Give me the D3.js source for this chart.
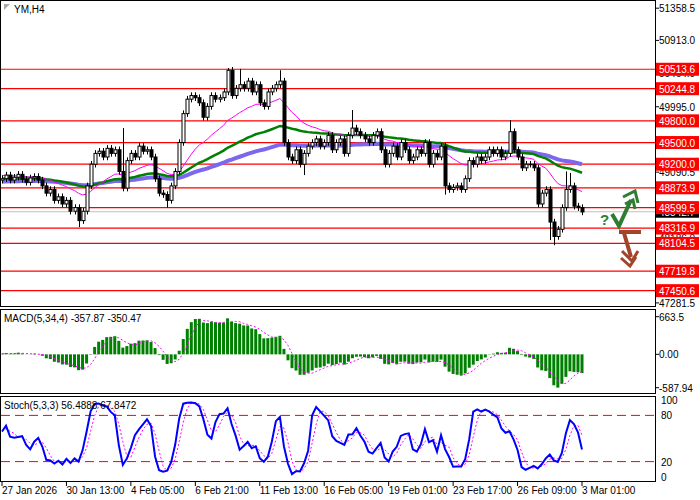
<!DOCTYPE html>
<html><head><meta charset="utf-8">
<script src="https://cdn.jsdelivr.net/npm/d3@7/dist/d3.min.js"></script>
<style>body{margin:0;background:#fff}text{font-family:"Liberation Sans",Arial,sans-serif}</style>
</head><body><svg id="c" width="700" height="500"></svg>
<script>
const closes=[49000,49050,48980,49020,49060,48990,48950,49010,49030,48980,
48900,48800,48850,48700,48750,48650,48700,48550,48600,48420,
48550,48900,49200,49350,49380,49300,49420,49350,49400,49100,48870,
49250,49350,49300,49450,49380,49400,49300,49000,48800,48780,48700,48900,
49100,49500,49900,50100,50150,50120,50050,49850,50000,50150,50100,50120,50200,
50500,50150,50250,50300,50250,50350,50200,50300,50050,50000,50200,50250,
50300,50350,49500,49300,49250,49400,49200,
49350,49450,49500,49550,49450,49500,49600,49400,49500,
49550,49350,49600,49700,49650,49600,49550,49500,49600,49650,
49400,49200,49350,49450,49300,49500,49400,49250,49300,49400,
49350,49500,49200,49350,49300,49450,48900,48850,48880,48900,48850,
49000,49250,49200,49300,49250,49300,49400,49350,49400,49300,49350,49650,
49400,49300,49150,49200,49200,49150,48650,48800,48850,48400,48200,48300,
48600,48850,48900,48620,48600,48540];
const firstOpen=48980;
const highSpikes={30:49700,56:50530,59:50520,69:50500,87:49950,126:49810,140:49100,141:49080};
const lowSpikes={19:48330,41:48600,75:49050,110:48780,136:48150,137:48080};
const levels=[50513.6,50244.8,49800.0,49500.0,49200.0,48873.9,48599.5,48316.9,48104.5,47719.8,47450.6];
const axisTicks=[51358.5,50913.0,50464.0,49995.0,49090.5,48186.0,47281.5];
const dateLabels=["27 Jan 2026","30 Jan 13:00","4 Feb 05:00","6 Feb 21:00","11 Feb 13:00","16 Feb 05:00","19 Feb 01:00","23 Feb 17:00","26 Feb 09:00","3 Mar 01:00"];
const lastPrice=48542.7;
const stochLegend=[56.4888,67.8472];
const macdLegend=[-357.87,-350.47];

const svg=d3.select("#c");
const n=closes.length;
const FS=10;
const opens=closes.map((c,i)=>i?closes[i-1]:firstOpen);
const highs=closes.map((c,i)=>highSpikes[i]||Math.max(c,opens[i])+45);
const lows=closes.map((c,i)=>lowSpikes[i]||Math.min(c,opens[i])-45);
const x=d3.scaleLinear().domain([0,144]).range([2,582]);
const y=d3.scaleLinear().domain([47281.5,51358.5]).range([302.9,8.2]);
const AX=655;
svg.append("rect").attr("x",0.5).attr("y",0.5).attr("width",AX).attr("height",306).attr("fill","none").attr("stroke","#000");
svg.append("rect").attr("x",0.5).attr("y",309.5).attr("width",AX).attr("height",84).attr("fill","none").attr("stroke","#000");
svg.append("rect").attr("x",0.5).attr("y",396.5).attr("width",AX).attr("height",85).attr("fill","none").attr("stroke","#000");
const main=svg.append("g");
levels.forEach(l=>main.append("line").attr("x1",1).attr("x2",AX).attr("y1",y(l)).attr("y2",y(l)).attr("stroke","#f00").attr("stroke-width",1.2));
main.append("line").attr("x1",1).attr("x2",AX).attr("y1",y(lastPrice)).attr("y2",y(lastPrice)).attr("stroke","#c0c0c0");
function ema(arr,p,seed){const k=2/(p+1);let e=seed;return arr.map(v=>e=e+k*(v-e));}
const ma1=ema(closes,21,49050),ma2=ema(closes,55,49000),ma3=ema(closes,100,48960);
const line=d3.line().x((d,i)=>x(i)).y(d=>y(d));
main.append("path").attr("d",line(ma3)).attr("fill","none").attr("stroke","#7b68ee").attr("stroke-width",4);
main.append("path").attr("d",line(ma2)).attr("fill","none").attr("stroke","#008000").attr("stroke-width",2.5);
main.append("path").attr("d",line(ma1)).attr("fill","none").attr("stroke","#ff00ff").attr("stroke-width",1);
closes.forEach((c,i)=>{const o=opens[i];const cx=Math.round(x(i))+0.5;
 main.append("line").attr("x1",cx).attr("x2",cx).attr("y1",y(highs[i])).attr("y2",y(lows[i])).attr("stroke","#000");
 const t=y(Math.max(o,c)),b=y(Math.min(o,c));
 main.append("rect").attr("x",cx-1.5).attr("y",t).attr("width",3).attr("height",Math.max(b-t,0.5)).attr("fill",c>=o?"#fff":"#000").attr("stroke","#000").attr("stroke-width",1);
});
axisTicks.forEach(t=>{svg.append("line").attr("x1",AX).attr("x2",AX+4).attr("y1",y(t)).attr("y2",y(t)).attr("stroke","#000");
 svg.append("text").attr("x",AX+4).attr("y",y(t)+4).attr("font-size",FS).text(t.toFixed(1));});
svg.append("rect").attr("x",AX+1).attr("y",y(lastPrice)-6).attr("width",43).attr("height",12).attr("fill","#000");
svg.append("text").attr("x",AX+4).attr("y",y(lastPrice)+4).attr("font-size",FS).attr("fill","#fff").text(lastPrice.toFixed(1));
levels.forEach(l=>{svg.append("rect").attr("x",AX+1).attr("y",y(l)-6.5).attr("width",43).attr("height",13).attr("fill","#f00");
 svg.append("text").attr("x",AX+4).attr("y",y(l)+4).attr("font-size",FS).attr("fill","#fff").text(l.toFixed(1));});
svg.append("path").attr("d","M4,4 L10,4 L4,10 Z").attr("fill","#aaa");
svg.append("text").attr("x",14).attr("y",13).attr("font-size",FS).text("YM,H4");
svg.append("path").attr("d","M612,214 L619,226 L631,200").attr("fill","none").attr("stroke","#2e7d32").attr("stroke-width",4);
svg.append("path").attr("d","M623,197 L635,191 L638,203 M625,204 L633,200 L635,209").attr("fill","none").attr("stroke","#2e7d32").attr("stroke-width",3);
svg.append("text").attr("x",600).attr("y",225).attr("font-size",15).attr("font-weight","bold").attr("fill","#2e7d32").text("?");
svg.append("path").attr("d","M619,232 L641,232 M624,233 L631,257").attr("fill","none").attr("stroke","#a0452a").attr("stroke-width",4);
svg.append("path").attr("d","M622,251 L632,261 L638,251 M621,258 L630,266 L636,257").attr("fill","none").attr("stroke","#a0452a").attr("stroke-width",3);
const e5=ema(closes,5,49000),e34=ema(closes,34,48990);
const macd=e5.map((v,i)=>v-e34[i]);
const sig=macd.map((v,i)=>d3.mean(macd.slice(Math.max(0,i-3),i+1)));
const ym=d3.scaleLinear().domain([-587.94,663.5]).range([387.7,316.7]);
macd.forEach((v,i)=>svg.append("rect").attr("x",x(i)-1.5).attr("y",Math.min(ym(v),ym(0))).attr("width",3).attr("height",Math.abs(ym(v)-ym(0))).attr("fill","#008000"));
svg.append("path").attr("d",d3.line().x((d,i)=>x(i)).y(d=>ym(d))(sig)).attr("fill","none").attr("stroke","#ff00ff").attr("stroke-dasharray","2,2");
svg.append("text").attr("x",4).attr("y",322).attr("font-size",FS).text("MACD(5,34,4) "+macdLegend[0].toFixed(2)+" "+macdLegend[1].toFixed(2));
[[663.5,"663.5"],[0,"0.00"],[-587.94,"-587.94"]].forEach(([v,t])=>{svg.append("line").attr("x1",AX).attr("x2",AX+4).attr("y1",ym(v)).attr("y2",ym(v)).attr("stroke","#000");svg.append("text").attr("x",AX+4).attr("y",ym(v)+4).attr("font-size",FS).text(t);});
const raw=closes.map((c,i)=>{const s=Math.max(0,i-4);const hh=d3.max(highs.slice(s,i+1)),ll=d3.min(lows.slice(s,i+1));return {c:c-ll,r:hh-ll};});
const K=raw.map((d,i)=>{const w=raw.slice(Math.max(0,i-2),i+1);return 100*d3.sum(w,e=>e.c)/d3.sum(w,e=>e.r);});
const D=K.map((v,i)=>d3.mean(K.slice(Math.max(0,i-2),i+1)));
const ys=d3.scaleLinear().domain([0,100]).range([477,400]);
[80,20].forEach(v=>svg.append("line").attr("x1",1).attr("x2",AX).attr("y1",ys(v)).attr("y2",ys(v)).attr("stroke","#f00").attr("stroke-dasharray","9,5"));
svg.append("path").attr("d",d3.line().x((d,i)=>x(i)).y(d=>ys(d))(D)).attr("fill","none").attr("stroke","#ff00ff").attr("stroke-dasharray","2,2");
svg.append("path").attr("d",d3.line().x((d,i)=>x(i)).y(d=>ys(d))(K)).attr("fill","none").attr("stroke","#0000ff").attr("stroke-width",2);
svg.append("text").attr("x",4).attr("y",409).attr("font-size",FS).text("Stoch(5,3,3) "+stochLegend[0].toFixed(4)+" "+stochLegend[1].toFixed(4));
[100,80,20,0].forEach(v=>{svg.append("text").attr("x",AX+6).attr("y",ys(v)+4).attr("font-size",FS).text(v);});
dateLabels.forEach((t,j)=>{const xx=x(j*16);svg.append("line").attr("x1",xx).attr("x2",xx).attr("y1",482).attr("y2",486).attr("stroke","#000");
 svg.append("text").attr("x",xx).attr("y",494).attr("font-size",FS).text(t);});
</script></body></html>
